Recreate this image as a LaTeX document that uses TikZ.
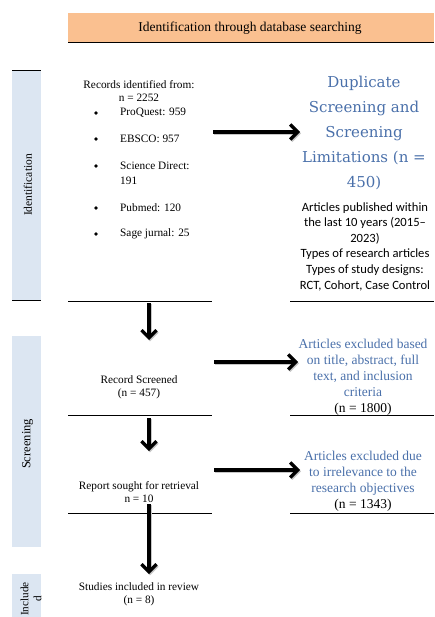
\documentclass[tikz,border=0pt]{standalone}
\usepackage{fontspec}
\setmainfont{Liberation Serif}
\newfontfamily\calfont{Carlito}
\newfontfamily\cambfont{DejaVu Serif}
\usetikzlibrary{arrows.meta}
\definecolor{peach}{HTML}{FAC090}
\definecolor{barblue}{HTML}{DCE6F2}
\definecolor{txtblue}{HTML}{4A70AA}
\tikzset{
  bigarrow/.style={line width=3.2pt, -{Straight Barb[length=7.5pt,width=15pt]},
    preaction={draw=black!22, line width=3.2pt, -{Straight Barb[length=7.5pt,width=15pt]}, transform canvas={shift={(1pt,-1.3pt)}}}},
  rule/.style={line width=0.9pt},
  lefttxt/.style={font=\fontsize{11.3}{13}\selectfont, align=center, inner sep=0pt},
  bullettxt/.style={font=\fontsize{11.3}{15}\selectfont, align=left, inner sep=0pt, anchor=west},
  bulletdot/.style={circle, fill=black, inner sep=0pt, minimum size=3.6pt},
  bluetxt/.style={font=\fontsize{13.5}{16}\selectfont, align=center, inner sep=0pt, text=txtblue},
  bartxt/.style={rotate=90, inner sep=0pt, align=center},
}
\begin{document}
\begin{tikzpicture}[x=1pt,y=-1pt]
\useasboundingbox (0,0) rectangle (434,617);
% header
\fill[peach] (68,13) rectangle (434,42);
\draw[rule] (68,42) -- (434,42);
\node[inner sep=0pt, font=\fontsize{13.5}{16}\selectfont] (head) at (250,28) {Identification through database searching};
% side bars
\fill[barblue] (12,70) rectangle (41,300);
\draw[rule] (12,70) -- (41,70);
\draw[rule] (12,300) -- (41,300);
\fill[barblue] (12,336) rectangle (41,547);
\fill[barblue] (12,574) rectangle (41,617);
\node[bartxt, font=\fontsize{11.5}{12}\selectfont] (lid) at (28,185) {Identification};
\node[bartxt, font=\fontsize{12.5}{13}\selectfont] (lsc) at (27.5,444) {Screening};
\node[bartxt, font=\fontsize{11.2}{13}\selectfont] (linc) at (31,599) {Include\\d};
% rules
\draw[rule] (68,301) -- (212,301);
\draw[rule] (68,415) -- (212,415);
\draw[rule] (68,513) -- (212,513);
\draw[rule] (290,301) -- (434,301);
\draw[rule] (290,415) -- (434,415);
\draw[rule] (290,513) -- (434,513);
% identification block
\node[lefttxt] (rec) at (139,91.5) {Records identified from:\\n = 2252};
\foreach \y/\t [count=\i] in {113/ProQuest: 959, 139/EBSCO: 957, 208/Pubmed: 120, 234/Sage jurnal: 25}{
  \node[bulletdot] (b\i) at (96,\y) {};
  \node[bullettxt] (t\i) at (120,\y) {\t};
}
\node[bulletdot] (b5) at (96,166) {};
\node[bullettxt] (t5) at (120,173.5) {Science Direct:\\191};
% duplicate block
\node[bluetxt, font=\cambfont\fontsize{15}{25}\selectfont] (dup) at (364,133) {Duplicate\\Screening and\\Screening\\Limitations (n =\\450)};
\node[inner sep=0pt, align=center, font=\calfont\fontsize{12.6}{15.6}\selectfont] (lim) at (365,246.5) {Articles published within\\the last 10 years (2015–\\2023)\\Types of research articles\\Types of study designs:\\RCT, Cohort, Case Control};
% screening
\node[lefttxt] (scr) at (139,387) {Record Screened\\(n = 457)};
\node[bluetxt] (exc1) at (363,377) {Articles excluded based\\on title, abstract, full\\text, and inclusion\\criteria\\\textcolor{black}{(n = 1800)}};
\node[lefttxt] (ret) at (139,492) {Report sought for retrieval\\n = 10};
\node[bluetxt] (exc2) at (363,481.5) {Articles excluded due\\to irrelevance to the\\research objectives\\\textcolor{black}{(n = 1343)}};
\node[lefttxt] (inc) at (139,594.5) {Studies included in review\\(n = 8)};
% arrows
\coordinate (a1s) at (213,132); \coordinate (a1e) at (300,132);
\coordinate (a2s) at (214,362); \coordinate (a2e) at (298,362);
\coordinate (a3s) at (214,470); \coordinate (a3e) at (300,470);
\coordinate (d1s) at (149,303); \coordinate (d1e) at (149,340);
\coordinate (d2s) at (149,418); \coordinate (d2e) at (149,451);
\coordinate (d3s) at (149,504); \coordinate (d3e) at (149,574);
\draw[bigarrow] (a1s) -- (a1e);
\draw[bigarrow] (a2s) -- (a2e);
\draw[bigarrow] (a3s) -- (a3e);
\draw[bigarrow] (d1s) -- (d1e);
\draw[bigarrow] (d2s) -- (d2e);
\draw[bigarrow] (d3s) -- (d3e);
\end{tikzpicture}
\end{document}
